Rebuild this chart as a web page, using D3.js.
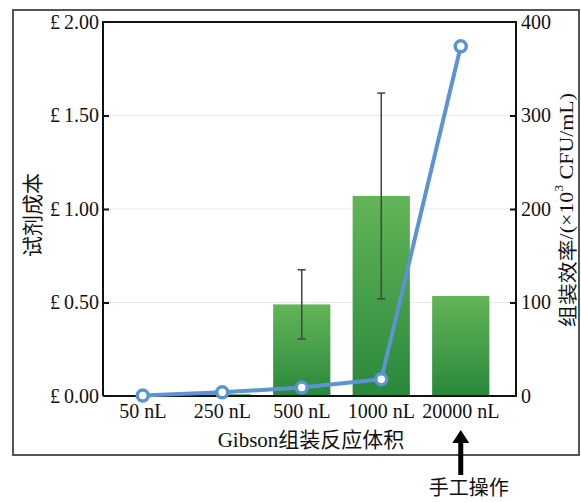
<!DOCTYPE html>
<html>
<head>
<meta charset="utf-8">
<script src="https://cdn.jsdelivr.net/npm/d3@7"></script>
<style>
  body { margin: 0; background: #fff; }
  svg text { font-family: "Liberation Serif", "Noto Sans CJK SC", serif; fill: #111; }
</style>
</head>
<body>
<svg id="chart" width="581" height="502"></svg>
<script>
const categories = ["50 nL", "250 nL", "500 nL", "1000 nL", "20000 nL"];
const costValues = [0, 0.01, 0.49, 1.07, 0.535];
const costErrors = [null, null, 0.185, 0.55, null];
const efficiencyValues = [0.5, 4, 9, 18, 374];
const leftTicks = [0, 0.5, 1.0, 1.5, 2.0];
const rightTicks = [0, 100, 200, 300, 400];

const svg = d3.select("#chart");
const m = { left: 103, right: 516, top: 22, bottom: 396 };

// outer frame
svg.append("rect").attr("x", 13).attr("y", 10).attr("width", 566).attr("height", 445)
  .attr("fill", "none").attr("stroke", "#555").attr("stroke-width", 2);

const x = d3.scaleBand().domain(categories).range([m.left, 500.5])
  .paddingInner(0.28).paddingOuter(0.14);
const yL = d3.scaleLinear().domain([0, 2]).range([m.bottom, m.top]);
const yR = d3.scaleLinear().domain([0, 400]).range([m.bottom, m.top]);

const defs = svg.append("defs");
const grad = defs.append("linearGradient").attr("id", "barGrad")
  .attr("x1", 0).attr("y1", 0).attr("x2", 0).attr("y2", 1);
grad.append("stop").attr("offset", "0%").attr("stop-color", "#62b557");
grad.append("stop").attr("offset", "100%").attr("stop-color", "#2a883c");

// gridlines
svg.append("g").selectAll("line").data(leftTicks.filter(d => d > 0 && d < 2)).join("line")
  .attr("x1", m.left).attr("x2", m.right)
  .attr("y1", d => yL(d)).attr("y2", d => yL(d))
  .attr("stroke", "#e6e9e6").attr("stroke-width", 1);

// bars
svg.append("g").selectAll("rect").data(categories).join("rect")
  .attr("x", d => x(d)).attr("width", x.bandwidth())
  .attr("y", (d, i) => yL(costValues[i]))
  .attr("height", (d, i) => m.bottom - yL(costValues[i]))
  .attr("fill", "url(#barGrad)");

// error bars
const eg = svg.append("g").attr("stroke", "#444").attr("stroke-width", 1.5);
categories.forEach((c, i) => {
  if (costErrors[i] == null) return;
  const cx = x(c) + x.bandwidth() / 2;
  const lo = yL(costValues[i] - costErrors[i]);
  const hi = yL(costValues[i] + costErrors[i]);
  eg.append("line").attr("x1", cx).attr("x2", cx).attr("y1", lo).attr("y2", hi);
  eg.append("line").attr("x1", cx - 4).attr("x2", cx + 4).attr("y1", lo).attr("y2", lo);
  eg.append("line").attr("x1", cx - 4).attr("x2", cx + 4).attr("y1", hi).attr("y2", hi);
});

// plot box
svg.append("path")
  .attr("d", `M${m.left},${m.bottom}V${m.top}H${m.right}V${m.bottom}H${m.left}`)
  .attr("fill", "none").attr("stroke", "#111").attr("stroke-width", 2);

// axes
const axL = svg.append("g").attr("transform", `translate(${m.left},0)`)
  .call(d3.axisLeft(yL).tickValues(leftTicks).tickSize(-6).tickPadding(4)
    .tickFormat(d => "£\u2009" + d.toFixed(2)));
const axR = svg.append("g").attr("transform", `translate(${m.right},0)`)
  .call(d3.axisRight(yR).tickValues(rightTicks).tickSize(-6).tickPadding(5));
const axB = svg.append("g").attr("transform", `translate(0,${m.bottom})`)
  .call(d3.axisBottom(x).tickSize(0).tickPadding(8));
[axL, axR, axB].forEach(a => {
  a.select(".domain").remove();
  a.selectAll("line").attr("stroke", "#111").attr("stroke-width", 2);
  a.selectAll("text").attr("font-size", 20).attr("fill", "#111")
    .style("font-family", '"Liberation Serif", serif');
});
axL.selectAll(".tick").filter(d => d === 0 || d === 2).select("line").remove();
axR.selectAll(".tick").filter(d => d === 0 || d === 400).select("line").remove();

// line
const pts = categories.map((c, i) => [x(c) + x.bandwidth() / 2, yR(efficiencyValues[i])]);
svg.append("path").datum(pts).attr("d", d3.line())
  .attr("fill", "none").attr("stroke", "#5b93d3").attr("stroke-width", 4)
  .attr("stroke-linejoin", "round");
svg.append("g").selectAll("circle").data(pts).join("circle")
  .attr("cx", d => d[0]).attr("cy", d => d[1]).attr("r", 5.5)
  .attr("fill", "#fff").attr("stroke", "#5b93d3").attr("stroke-width", 3.5);

// titles
svg.append("text").attr("transform", "translate(31,215) rotate(-90)")
  .attr("text-anchor", "middle").attr("dominant-baseline", "central")
  .attr("font-size", 21).style("font-family", '"Noto Sans CJK SC", sans-serif')
  .text("试剂成本");

const rt = svg.append("text").attr("transform", "translate(566,210) rotate(-90)")
  .attr("text-anchor", "middle").attr("dominant-baseline", "central")
  .attr("font-size", 19).attr("textLength", 234).attr("lengthAdjust", "spacingAndGlyphs");
rt.append("tspan").style("font-family", '"Noto Sans CJK SC", sans-serif').text("组装效率");
rt.append("tspan").text("/(×10");
rt.append("tspan").attr("font-size", 12).attr("dy", -7).text("3");
rt.append("tspan").attr("dy", 7).text(" CFU/mL)");

const xt = svg.append("text").attr("x", 311).attr("y", 447)
  .attr("text-anchor", "middle").attr("font-size", 21);
xt.append("tspan").text("Gibson");
xt.append("tspan").style("font-family", '"Noto Sans CJK SC", sans-serif').text("组装反应体积");

// arrow for manual operation
const ax = x("20000 nL") + x.bandwidth() / 2;
svg.append("path")
  .attr("d", `M${ax},430 L${ax + 8.5},443 L${ax + 2.5},443 L${ax + 2.5},475 L${ax - 2.5},475 L${ax - 2.5},443 L${ax - 8.5},443 Z`)
  .attr("fill", "#000");
svg.append("text").attr("x", ax + 8).attr("y", 495).attr("text-anchor", "middle")
  .attr("font-size", 20).style("font-family", '"Noto Sans CJK SC", sans-serif')
  .text("手工操作");
</script>
</body>
</html>
